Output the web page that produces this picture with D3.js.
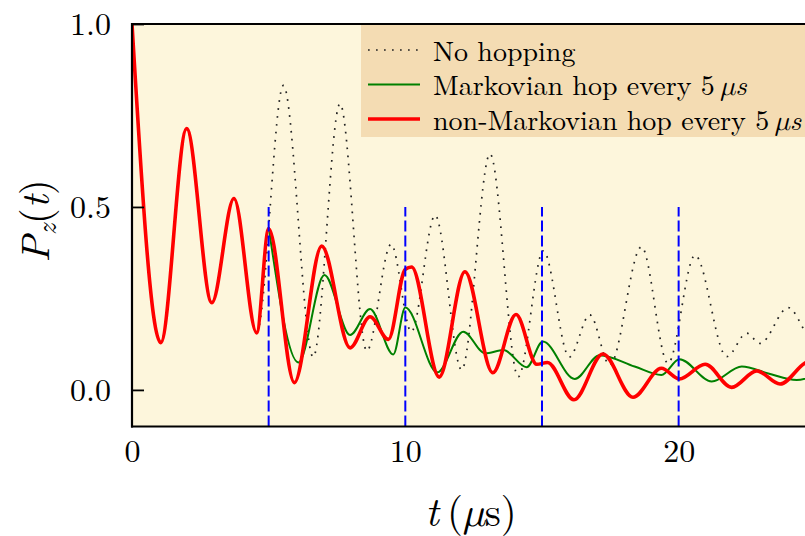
<!DOCTYPE html>
<html>
<head>
<meta charset="utf-8">
<script src="https://cdn.jsdelivr.net/npm/d3@7"></script>
<style>
  html, body { margin: 0; padding: 0; background: #ffffff; }
  svg { display: block; }
</style>
</head>
<body>
<svg id="chart" width="805" height="536"></svg>
<script>
// ---- data ----
const noHopT = [0, 1.05, 2.0, 2.92, 3.73, 4.56, 5.54, 6.63, 7.61, 8.59, 9.48, 10.22, 11.09, 12.06, 13.1, 14.13, 15.05, 16.0, 16.75, 17.48, 18.64, 19.61, 20.6, 21.76, 22.49, 22.98, 24.01, 24.62, 25.0];
const noHopP = [1.0, 0.129, 0.714, 0.238, 0.523, 0.156, 0.832, 0.09, 0.782, 0.107, 0.398, 0.159, 0.477, 0.055, 0.645, 0.036, 0.38, 0.09, 0.205, 0.068, 0.391, 0.073, 0.368, 0.091, 0.155, 0.127, 0.225, 0.16, 0.11];

const markovT = [5.0, 6.09, 7.04, 7.98, 8.71, 9.56, 10.0, 11.17, 12.12, 12.92, 13.59, 14.44, 15.03, 16.2, 17.11, 18.39, 19.37, 20.03, 21.21, 22.31, 23.28, 24.32, 25.0];
const markovP = [0.445, 0.075, 0.314, 0.15, 0.221, 0.097, 0.225, 0.048, 0.159, 0.10, 0.109, 0.062, 0.132, 0.03, 0.095, 0.064, 0.041, 0.084, 0.023, 0.064, 0.045, 0.027, 0.04];

const nonMarkovT = [0, 1.05, 2.0, 2.92, 3.73, 4.56, 5.0, 5.94, 6.94, 7.98, 8.71, 9.38, 10.0, 10.23, 11.24, 12.18, 13.2, 14.05, 14.81, 15.2, 16.17, 17.23, 18.33, 19.37, 20.03, 20.97, 21.94, 22.86, 23.71, 24.62, 25.0];
const nonMarkovP = [1.0, 0.129, 0.714, 0.238, 0.523, 0.156, 0.44, 0.02, 0.393, 0.115, 0.2, 0.138, 0.33, 0.336, 0.035, 0.323, 0.047, 0.206, 0.07, 0.075, -0.027, 0.098, -0.02, 0.059, 0.03, 0.07, 0.007, 0.052, 0.016, 0.073, 0.085];

const hopTimes = [5, 10, 15, 20];
const xTicks = [0, 10, 20];
const yTicks = [0.0, 0.5, 1.0];
const legendLabels = ["No hopping", "Markovian hop every ", "non-Markovian hop every "];

(function () {
const FONT = '"Latin Modern Roman", "Liberation Serif", serif';
const MUFONT = '"Latin Modern Math", "Liberation Serif", serif';
// ---- layout ----
const svg = d3.select("#chart");
const pL = 132, pT = 24, pB = 426.5, pR = 815.3;
const x = d3.scaleLinear().domain([0, 25]).range([pL, pR]);
const y = d3.scaleLinear().domain([-0.1, 1.0]).range([pB, pT]);

svg.append("defs").append("clipPath").attr("id", "clip")
  .append("rect").attr("x", pL).attr("y", pT).attr("width", pR - pL).attr("height", pB - pT);

svg.append("rect").attr("x", pL).attr("y", pT).attr("width", pR - pL).attr("height", pB - pT)
  .attr("fill", "#fdf6dc");

const line = d3.line().x(d => x(d[0])).y(d => y(d[1])).curve(d3.curveMonotoneX);
const zip = (a, b) => a.map((v, i) => [v, b[i]]);

const plot = svg.append("g").attr("clip-path", "url(#clip)");

plot.append("path").datum(zip(noHopT, noHopP)).attr("d", line)
  .attr("fill", "none").attr("stroke", "#222").attr("stroke-width", 1.7)
  .attr("stroke-dasharray", "1.7,6.3");

plot.append("path").datum(zip(markovT, markovP)).attr("d", line)
  .attr("fill", "none").attr("stroke", "#008000").attr("stroke-width", 2);

plot.append("path").datum(zip(nonMarkovT, nonMarkovP)).attr("d", line)
  .attr("fill", "none").attr("stroke", "#ff0000").attr("stroke-width", 3.6)
  .attr("stroke-linejoin", "round");

plot.selectAll("line.hop").data(hopTimes).enter().append("line")
  .attr("class", "hop")
  .attr("x1", d => x(d)).attr("x2", d => x(d))
  .attr("y1", y(-0.1)).attr("y2", y(0.5))
  .attr("stroke", "#0000ff").attr("stroke-width", 2)
  .attr("stroke-dasharray", "11,4");

// ---- legend ----
const lg = svg.append("g");
lg.append("rect").attr("x", 361).attr("y", pT + 1).attr("width", 460).attr("height", 112)
  .attr("fill", "#f4dcb3");
const rowY = [50, 84.5, 119];
const styles = [
  {stroke: "#222", w: 1.7, dash: "1.7,6.3"},
  {stroke: "#008000", w: 2, dash: null},
  {stroke: "#ff0000", w: 3.6, dash: null}
];
legendLabels.forEach((lab, i) => {
  const l = lg.append("line").attr("x1", 368).attr("x2", 420)
    .attr("y1", rowY[i]).attr("y2", rowY[i])
    .attr("stroke", styles[i].stroke).attr("stroke-width", styles[i].w);
  if (styles[i].dash) l.attr("stroke-dasharray", styles[i].dash);
  const t = lg.append("text").attr("x", 433).attr("y", rowY[i] + 10.5)
    .style("font-family", FONT).style("font-size", "28px").attr("fill", "#000");
  t.append("tspan").text(lab);
  if (i > 0) {
    t.append("tspan").text("5\u2009");
    t.append("tspan").style("font-family", MUFONT).style("font-style", "italic").text("\u03bc");
    t.append("tspan").style("font-style", "italic").text("s");
  }
});

// ---- axes ----
const yAxis = d3.axisLeft(y).tickValues(yTicks).tickFormat(d3.format(".1f"))
  .tickSizeInner(-12).tickSizeOuter(0).tickPadding(21);
const gy = svg.append("g").attr("transform", `translate(${pL},0)`).call(yAxis);
gy.select(".domain").remove();
gy.selectAll(".tick line").attr("stroke", "#000").attr("stroke-width", 1.8);
gy.selectAll(".tick text").style("font-family", FONT).style("font-size", "32px").attr("fill", "#000");

const xAxis = d3.axisBottom(x).tickValues(xTicks).tickFormat(d3.format("d"))
  .tickSizeInner(0).tickSizeOuter(0).tickPadding(13);
const gx = svg.append("g").attr("transform", `translate(0,${pB})`).call(xAxis);
gx.select(".domain").remove();
gx.selectAll(".tick line").remove();
gx.selectAll(".tick text").style("font-family", FONT).style("font-size", "32px").attr("fill", "#000");

// spines
svg.append("line").attr("x1", pL).attr("x2", pL).attr("y1", pT - 1).attr("y2", pB + 1)
  .attr("stroke", "#000").attr("stroke-width", 2.2);
svg.append("line").attr("x1", pL - 1).attr("x2", 805).attr("y1", pT).attr("y2", pT)
  .attr("stroke", "#000").attr("stroke-width", 2.2);
svg.append("line").attr("x1", pL - 1).attr("x2", 805).attr("y1", pB).attr("y2", pB)
  .attr("stroke", "#000").attr("stroke-width", 2.2);

// axis labels
const xl = svg.append("text").attr("x", 471).attr("y", 526).attr("text-anchor", "middle")
  .style("font-family", FONT).style("font-size", "41px").attr("fill", "#000");
xl.append("tspan").style("font-style", "italic").text("t");
xl.append("tspan").text("\u2009(");
xl.append("tspan").style("font-family", MUFONT).style("font-style", "italic").text("\u03bc");
xl.append("tspan").text("s)");

const yl = svg.append("text").attr("transform", "translate(49,221) rotate(-90)")
  .attr("text-anchor", "middle").style("font-family", FONT).style("font-size", "40px").attr("fill", "#000");
yl.append("tspan").style("font-style", "italic").text("P");
yl.append("tspan").style("font-style", "italic").style("font-size", "28px").attr("dy", 7).text("z");
yl.append("tspan").attr("dy", -7).text("(");
yl.append("tspan").style("font-style", "italic").text("t");
yl.append("tspan").text(")");
})();
</script>
</body>
</html>
